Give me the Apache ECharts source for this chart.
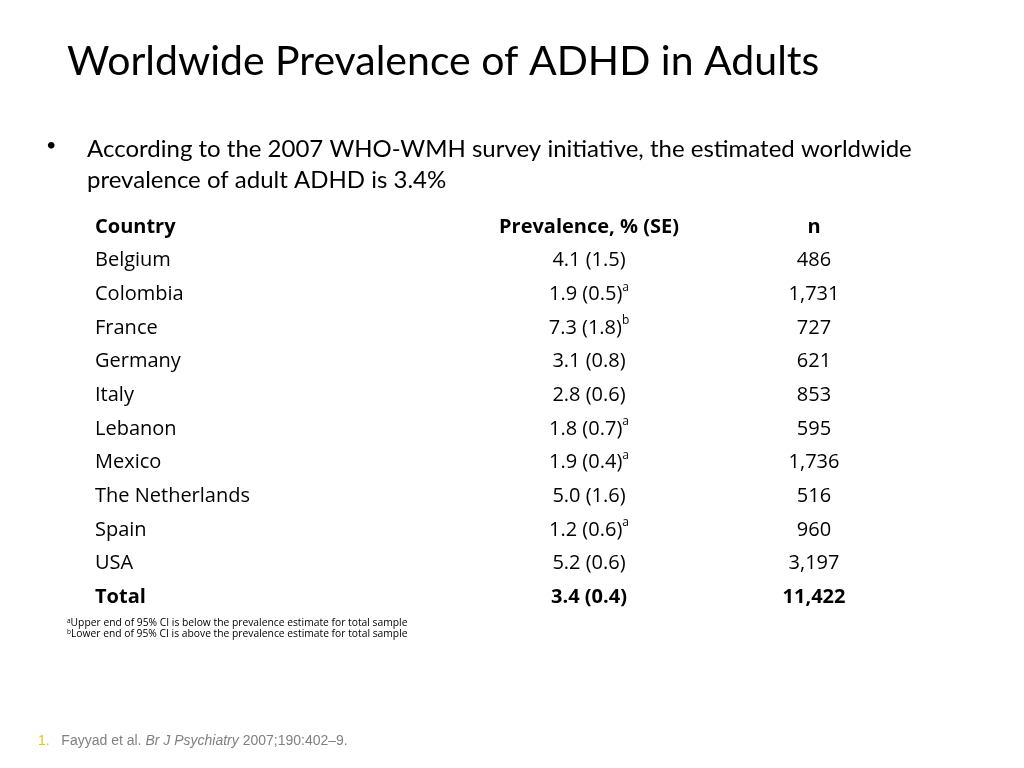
<!DOCTYPE html>
<html><head><meta charset="utf-8">
<script src="https://cdn.jsdelivr.net/npm/echarts@6/dist/echarts.min.js"></script>
<style>html,body{margin:0;padding:0;background:#fff}#c{width:1024px;height:768px}</style>
</head><body><div id="c"></div>
<script>
const headers = ['Country', 'Prevalence, % (SE)', 'n'];
const countries = ['Belgium','Colombia','France','Germany','Italy','Lebanon','Mexico','The Netherlands','Spain','USA'];
const prevalence = [4.1, 1.9, 7.3, 3.1, 2.8, 1.8, 1.9, 5.0, 1.2, 5.2];
const se = [1.5, 0.5, 1.8, 0.8, 0.6, 0.7, 0.4, 1.6, 0.6, 0.6];
const marks = ['', 'a', 'b', '', '', 'a', 'a', '', 'a', ''];
const sampleN = [486, 1731, 727, 621, 853, 595, 1736, 516, 960, 3197];
const totalLabel = 'Total';
const totalPrevalence = 3.4;
const totalSe = 0.4;
const totalN = 11422;

const rowCount = countries.length + 2;
const rowIdx = Array.from({length: rowCount}, (_, i) => i);
const TF = 'Open Sans';

function cellText(col, i) {
  if (i === 0) return '{b|' + headers[col] + '}';
  if (i === rowCount - 1) {
    if (col === 0) return '{b|' + totalLabel + '}';
    if (col === 1) return '{b|' + totalPrevalence.toFixed(1) + ' (' + totalSe.toFixed(1) + ')}';
    return '{b|' + totalN.toLocaleString('en-US') + '}';
  }
  const k = i - 1;
  if (col === 0) return '{r|' + countries[k] + '}';
  if (col === 1) return '{r|' + prevalence[k].toFixed(1) + ' (' + se[k].toFixed(1) + ')}' + (marks[k] ? '{s|' + marks[k] + '}' : '');
  return '{r|' + sampleN[k].toLocaleString('en-US') + '}';
}

const rich = {
  r: {fontFamily: TF, fontSize: 20, color: '#000', lineHeight: 26},
  b: {fontFamily: TF, fontSize: 20, fontWeight: 'bold', color: '#000', lineHeight: 26},
  s: {fontFamily: TF, fontSize: 12, color: '#000', lineHeight: 26, verticalAlign: 'top', padding: [0, 0, 12, 0]}
};

const colLeft = [95, 584, 809];
const colAlign = ['left', 'center', 'center'];
const grids = colLeft.map(l => ({left: l, width: 10, top: 210, height: 404}));
const xAxes = grids.map((g, gi) => ({gridIndex: gi, type: 'value', min: 0, max: 1, show: false}));
const yAxes = grids.map((g, gi) => ({gridIndex: gi, type: 'category', data: rowIdx, inverse: true, show: false}));
const series = [0, 1, 2].map(col => ({
  type: 'scatter', xAxisIndex: col, yAxisIndex: col, symbolSize: 0, silent: true,
  data: rowIdx.map(i => [col === 0 ? 0 : 0.5, i]),
  label: {
    show: true, position: 'inside', align: colAlign[col], verticalAlign: 'middle',
    color: '#000', textBorderWidth: 0, opacity: 1,
    formatter: p => cellText(col, p.dataIndex), rich: rich
  }
}));

const chart = echarts.init(document.getElementById('c'), null, {renderer: 'canvas'});
chart.setOption({
  backgroundColor: '#fff',
  animation: false,
  grid: grids, xAxis: xAxes, yAxis: yAxes, series: series,
  graphic: [
    {type: 'text', left: 67, top: 41, style: {text: 'Worldwide Prevalence of ADHD in Adults', font: '41px Lato', fill: '#000'}},
    {type: 'text', left: 46, top: 136, style: {text: '•', font: '18px Lato', fill: '#000'}},
    {type: 'text', left: 87, top: 134, style: {text: 'According to the 2007 WHO-WMH survey initiative, the estimated worldwide\nprevalence of adult ADHD is 3.4%', font: '24px Lato', lineHeight: 31, fill: '#000'}},
    {type: 'text', left: 67, top: 618, style: {text: '{s|a}{t|Upper end of 95% CI is below the prevalence estimate for total sample}\n{s|b}{t|Lower end of 95% CI is above the prevalence estimate for total sample}',
      rich: {t: {fontFamily: TF, fontSize: 10.3, lineHeight: 11, fill: '#000'}, s: {fontFamily: TF, fontSize: 6.5, lineHeight: 11, verticalAlign: 'top', fill: '#000'}}}},
    {type: 'text', left: 38, top: 734, style: {text: '{n|1.}{g|   }{t|Fayyad et al. }{i|Br J Psychiatry}{t| 2007;190:402–9.}',
      rich: {n: {fontFamily: 'Liberation Sans', fontSize: 14, fill: '#e8c21a'}, g: {fontFamily: 'Liberation Sans', fontSize: 14},
        t: {fontFamily: 'Liberation Sans', fontSize: 14, fill: '#808080'}, i: {fontFamily: 'Liberation Sans', fontSize: 14, fontStyle: 'italic', fill: '#808080'}}}}
  ]
});
</script></body></html>
